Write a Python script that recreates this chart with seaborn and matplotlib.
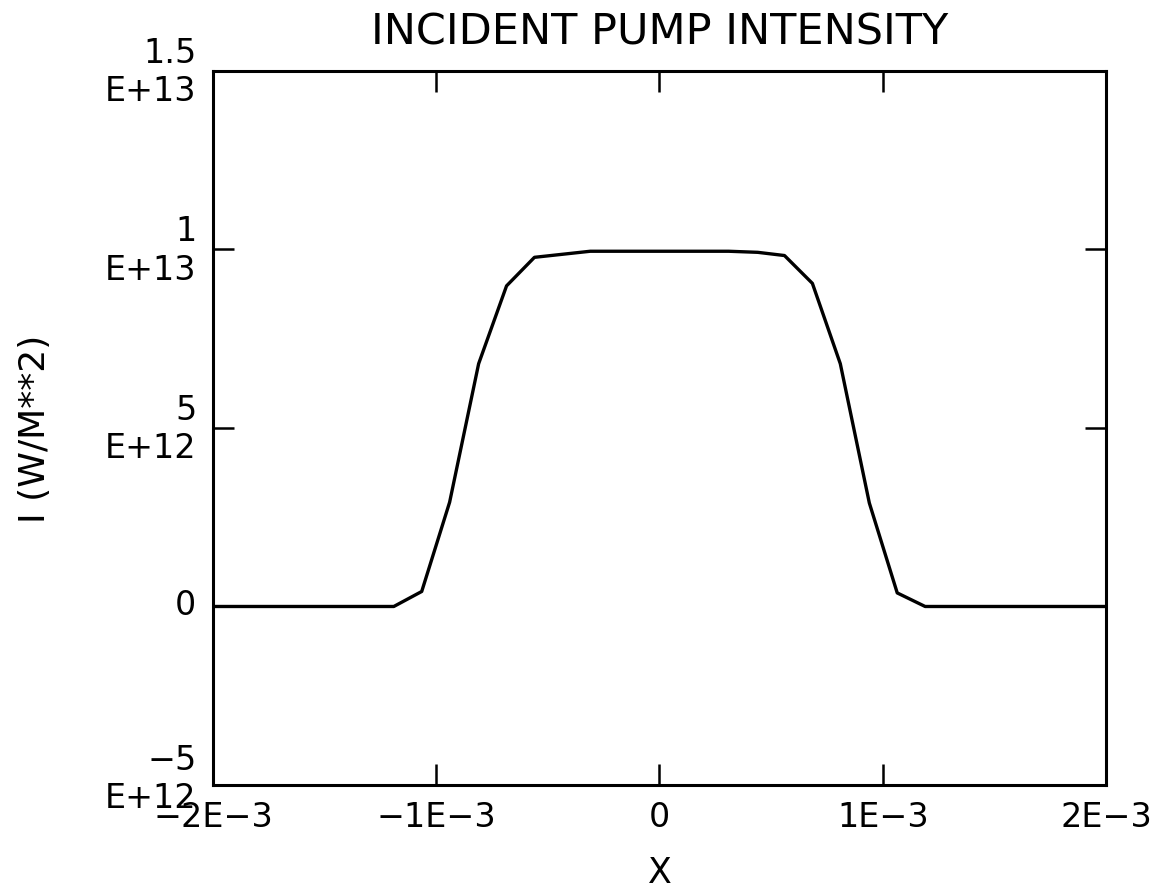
import numpy as np
import pandas as pd
import matplotlib
matplotlib.use("Agg")
import matplotlib.pyplot as plt
import matplotlib.transforms as mtransforms
import seaborn as sns

# --- DONNEES ---
x_pos = [-2.0e-3, -1.19e-3, -1.065e-3, -0.94e-3, -0.81e-3, -0.685e-3, -0.56e-3,
         -0.31e-3, 0.0, 0.31e-3, 0.44e-3, 0.56e-3, 0.685e-3, 0.81e-3, 0.94e-3,
         1.065e-3, 1.19e-3, 2.0e-3]
intensity = [0.0, 0.0, 0.42e12, 2.92e12, 6.8e12, 8.98e12, 9.78e12,
             9.95e12, 9.95e12, 9.95e12, 9.92e12, 9.83e12, 9.05e12, 6.8e12, 2.9e12,
             0.38e12, 0.0, 0.0]

x_ticks = [-2e-3, -1e-3, 0.0, 1e-3, 2e-3]
x_labels = ["\u22122E\u22123", "\u22121E\u22123", "0", "1E\u22123", "2E\u22123"]
y_ticks = [-5e12, 0.0, 5e12, 1e13, 1.5e13]
y_labels = ["\u22125\nE+12", "0", "5\nE+12", "1\nE+13", "1.5\nE+13"]

# --- STYLE ---
sns.set_theme(style="white")
plt.rcParams['font.family'] = ['DejaVu Sans']

df = pd.DataFrame({'X': x_pos, 'I': intensity})

fig = plt.figure(figsize=(11.67, 8.95), dpi=100)
ax = fig.add_axes([0.1825, 0.1218, 0.7652, 0.7978])

sns.lineplot(data=df, x='X', y='I', color='black', linewidth=2.4, ax=ax)

ax.set_xlim(-2e-3, 2e-3)
ax.set_ylim(-5e12, 1.5e13)
ax.set_xticks(x_ticks)
ax.set_xticklabels(x_labels)
ax.set_yticks(y_ticks)
ax.set_yticklabels(y_labels, multialignment='right')

ax.tick_params(axis='both', direction='in', length=15, width=1.8, color='black',
               bottom=True, left=True, top=True, right=True,
               labelsize=24, labelcolor='black')
ax.tick_params(axis='x', pad=11)
ax.tick_params(axis='y', pad=12)

# petit decalage vers le haut des etiquettes Y (plus fort pour celle du bas)
for i, lab in enumerate(ax.get_yticklabels()):
    dy = 9 if i == 0 else 4
    shift = mtransforms.ScaledTranslation(0, dy / 72, fig.dpi_scale_trans)
    lab.set_transform(lab.get_transform() + shift)

for s in ax.spines.values():
    s.set_color('black')
    s.set_linewidth(2.2)

ax.set_title('INCIDENT PUMP INTENSITY', fontsize=31, pad=20, color='black')
ax.set_xlabel('X', fontsize=25, labelpad=16, color='black')
ax.set_ylabel('I (W/M**2)', fontsize=26, labelpad=38, color='black')

fig.savefig('out.png', dpi=100, facecolor='white')
